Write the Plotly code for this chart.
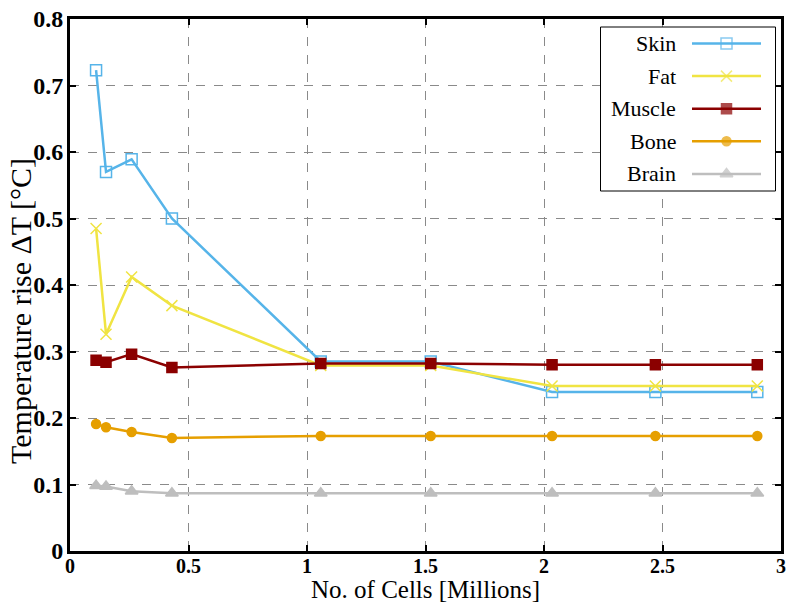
import plotly.graph_objects as go

# Mesh sizes (millions of cells) and peak temperature rise per tissue
cells = [0.11, 0.152, 0.26, 0.43, 1.058, 1.522, 2.034, 2.47, 2.90]
skin = [0.723, 0.570, 0.589, 0.500, 0.285, 0.285, 0.239, 0.239, 0.239]
fat = [0.485, 0.326, 0.412, 0.369, 0.279, 0.279, 0.248, 0.248, 0.248]
muscle = [0.287, 0.284, 0.296, 0.276, 0.282, 0.282, 0.280, 0.280, 0.280]
bone = [0.191, 0.186, 0.179, 0.170, 0.173, 0.173, 0.173, 0.173, 0.173]
brain = [0.098, 0.097, 0.090, 0.087, 0.087, 0.087, 0.087, 0.087, 0.087]

names = ["Skin", "Fat", "Muscle", "Bone", "Brain"]
values = [skin, fat, muscle, bone, brain]
colors = ["#56B4E9", "#F0E442", "#8B0000", "#E69F00", "#BEBEBE"]
symbols = ["square-open", "x-thin-open", "square", "circle", "triangle-up"]
sizes = [11, 11, 10, 9, 11]

# Tick positions and labels
x_ticks = [0, 0.5, 1, 1.5, 2, 2.5, 3]
x_tick_labels = ["0", "0.5", "1", "1.5", "2", "2.5", "3"]
y_ticks = [0, 0.1, 0.2, 0.3, 0.4, 0.5, 0.6, 0.7, 0.8]
y_tick_labels = ["0", "0.1", "0.2", "0.3", "0.4", "0.5", "0.6", "0.7", "0.8"]

x_title = "No. of Cells [Millions]"
y_title = "Temperature rise ΔT [°C]"

SERIF = "Liberation Serif, Times New Roman, serif"

# Plot area in pixels and data ranges, used to place the hand-built legend
W, H = 787, 604
PL, PR, PT, PB = 70, 781, 19, 551
X_RANGE = (0, 3)
Y_RANGE = (0, 0.8)


def px_to_x(px):
    return X_RANGE[0] + (px - PL) / (PR - PL) * (X_RANGE[1] - X_RANGE[0])


def px_to_y(py):
    return Y_RANGE[0] + (PB - py) / (PB - PT) * (Y_RANGE[1] - Y_RANGE[0])


fig = go.Figure()
for name, vals, col, sym, sz in zip(names, values, colors, symbols, sizes):
    fig.add_trace(go.Scatter(
        x=cells, y=vals, name=name, mode="lines+markers",
        line=dict(color=col, width=2.5),
        marker=dict(symbol=sym, size=sz, color=col,
                    line=dict(color=col, width=1.5)),
        showlegend=False,
    ))

# Legend: label on the left, sample line with marker on the right
box_l, box_r, box_t, box_b = 600.5, 775.5, 27, 191
row0, row_step = 43.5, 32.6
text_x, line_l, line_r = 678, 692, 761
fig.add_shape(
    type="rect", xref="x", yref="y",
    x0=px_to_x(box_l), x1=px_to_x(box_r), y0=px_to_y(box_b), y1=px_to_y(box_t),
    line=dict(color="black", width=1), fillcolor="white", layer="between",
)
for i, (name, col, sym, sz) in enumerate(zip(names, colors, symbols, sizes)):
    ry = px_to_y(row0 + i * row_step)
    xs = [px_to_x(line_l), px_to_x((line_l + line_r) / 2), px_to_x(line_r)]
    fig.add_trace(go.Scatter(
        x=xs, y=[ry, ry, ry], mode="lines+markers",
        line=dict(color=col, width=2.5),
        marker=dict(symbol=sym, size=[0, sz, 0], color=col,
                    line=dict(color=col, width=1.5)),
        showlegend=False, hoverinfo="skip",
    ))
    fig.add_annotation(
        x=px_to_x(text_x), y=ry, xref="x", yref="y", text=name,
        showarrow=False, xanchor="right", yanchor="middle",
        font=dict(family=SERIF, size=22, color="black"),
    )

# Axis titles
fig.add_annotation(
    x=0.5, y=-(589 - PB) / (PB - PT), xref="paper", yref="paper",
    text=x_title, showarrow=False, xanchor="center", yanchor="middle",
    borderpad=0, font=dict(family=SERIF, size=25, color="black"),
)
fig.add_annotation(
    x=0, y=(PB - 311) / (PB - PT), xref="paper", yref="paper",
    xshift=20 - PL, text=y_title, textangle=-90, showarrow=False,
    xanchor="center", yanchor="middle", borderpad=0,
    font=dict(family=SERIF, size=30, color="black"),
)

axis_common = dict(
    showline=True, linecolor="black", linewidth=3, mirror="allticks",
    ticks="inside", ticklen=6, tickwidth=2, tickcolor="black",
    showgrid=True, gridcolor="#8a8a8a", gridwidth=1, griddash="dash",
    zeroline=False, automargin=False,
)

fig.update_layout(
    width=W, height=H,
    margin=dict(l=PL, r=W - PR, t=PT, b=H - PB),
    paper_bgcolor="white", plot_bgcolor="white",
    xaxis=dict(range=list(X_RANGE), tickmode="array", tickvals=x_ticks,
               ticktext=[f"<b>{t}</b>" for t in x_tick_labels],
               tickfont=dict(family=SERIF, size=20, color="black"),
               ticklabelstandoff=-5, **axis_common),
    yaxis=dict(range=list(Y_RANGE), tickmode="array", tickvals=y_ticks,
               ticktext=[f"<b>{t}</b>" for t in y_tick_labels],
               tickfont=dict(family=SERIF, size=24, color="black"),
               ticklabelstandoff=-1, **axis_common),
    showlegend=False,
)

fig.write_html("out.html")
